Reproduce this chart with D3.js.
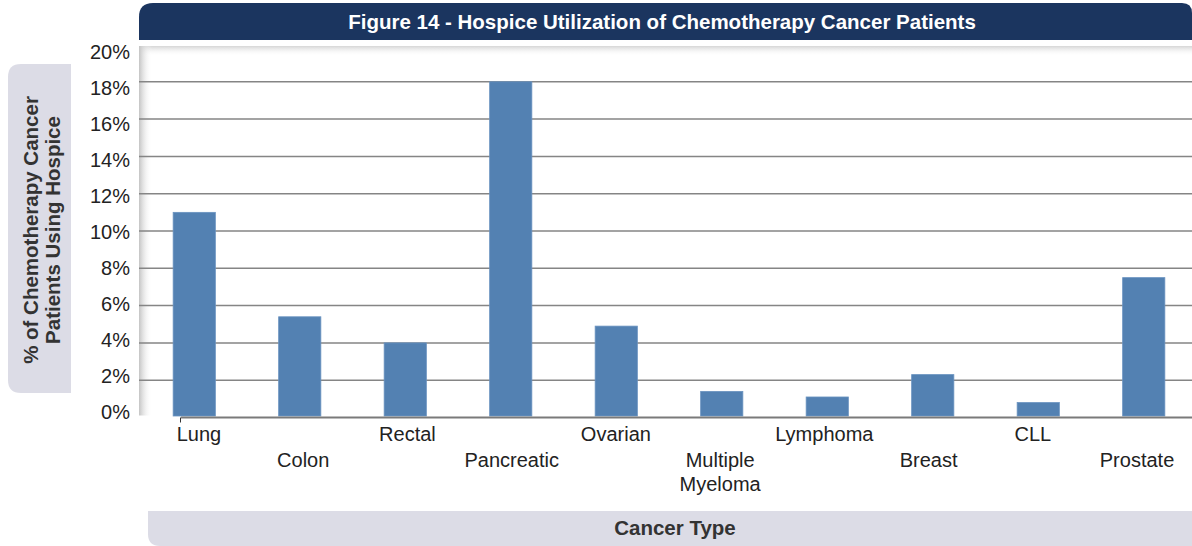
<!DOCTYPE html>
<html>
<head>
<meta charset="utf-8">
<script src="https://cdn.jsdelivr.net/npm/d3@7"></script>
<style>
  body { margin: 0; background: #fff; }
  svg text { font-family: "Liberation Sans", Arial, sans-serif; }
</style>
</head>
<body>
<svg id="chart" width="1192" height="546"></svg>
<script>
var categories = ["Lung", "Colon", "Rectal", "Pancreatic", "Ovarian",
                  "Multiple Myeloma", "Lymphoma", "Breast", "CLL", "Prostate"];
var values = [11.0, 5.4, 4.0, 18.0, 4.9, 1.4, 1.1, 2.3, 0.8, 7.5];
var yTicks = [0, 2, 4, 6, 8, 10, 12, 14, 16, 18, 20];
var titleText = "Figure 14 - Hospice Utilization of Chemotherapy Cancer Patients";
var yTitle = ["% of Chemotherapy Cancer", "Patients Using Hospice"];
var xTitle = "Cancer Type";

var svg = d3.select("#chart");

var plot = { left: 139, right: 1192, top: 46, bottom: 417.5 };

var x = d3.scaleBand()
    .domain(categories)
    .range([141.5, 1196.5])
    .paddingInner(0.6)
    .paddingOuter(0.3);

// category labels run on a slightly tighter step than the bars
var xLab = d3.scalePoint()
    .domain(categories)
    .range([199, 1137]);

var y = d3.scaleLinear()
    .domain([0, 20])
    .range([417.5, 44.5]);

// labels sit on a slightly tighter spacing than the gridlines
var yLab = d3.scaleLinear()
    .domain([0, 20])
    .range([412, 52]);

var defs = svg.append("defs");
var gl = defs.append("linearGradient").attr("id", "shadeL");
gl.append("stop").attr("offset", "0%").attr("stop-color", "#c4c4c4");
gl.append("stop").attr("offset", "100%").attr("stop-color", "#ffffff").attr("stop-opacity", 0);
var gt = defs.append("linearGradient").attr("id", "shadeT")
    .attr("x1", 0).attr("y1", 0).attr("x2", 0).attr("y2", 1);
gt.append("stop").attr("offset", "0%").attr("stop-color", "#d6d6d6");
gt.append("stop").attr("offset", "100%").attr("stop-color", "#ffffff").attr("stop-opacity", 0);

// title bar
svg.append("path")
    .attr("d", "M139,40 L139,17 Q139,3 153,3 L1182,3 Q1192,3 1192,13 L1192,40 Z")
    .attr("fill", "#1b355f");
svg.append("text")
    .attr("x", 662).attr("y", 29)
    .attr("text-anchor", "middle")
    .attr("fill", "#fff")
    .attr("font-size", 20.5).attr("font-weight", "bold")
    .text(titleText);

// plot area shadows
svg.append("rect")
    .attr("x", plot.left).attr("y", plot.top)
    .attr("width", plot.right - plot.left).attr("height", 10)
    .attr("fill", "url(#shadeT)");
svg.append("rect")
    .attr("x", plot.left).attr("y", plot.top)
    .attr("width", 13).attr("height", plot.bottom - plot.top - 2)
    .attr("fill", "url(#shadeL)");

// gridlines
svg.append("g")
    .selectAll("line")
    .data(yTicks.filter(function(d) { return d > 0 && d < 20; }))
    .enter()
    .append("line")
    .attr("x1", plot.left).attr("x2", plot.right)
    .attr("y1", function(d) { return y(d); })
    .attr("y2", function(d) { return y(d); })
    .attr("stroke", "#858585")
    .attr("stroke-width", 1.5);

// y labels
svg.append("g")
    .selectAll("text")
    .data(yTicks)
    .enter()
    .append("text")
    .attr("x", 130)
    .attr("y", function(d) { return yLab(d); })
    .attr("dy", "0.36em")
    .attr("text-anchor", "end")
    .attr("font-size", 20)
    .attr("fill", "#222")
    .text(function(d) { return d + "%"; });

// bars
svg.append("g")
    .selectAll("rect")
    .data(values)
    .enter()
    .append("rect")
    .attr("x", function(d, i) { return x(categories[i]); })
    .attr("y", function(d) { return y(d); })
    .attr("width", x.bandwidth())
    .attr("height", function(d) { return y(0) - 1.5 - y(d); })
    .attr("fill", "#5381b2")
    .attr("stroke", "#6a93c0")
    .attr("stroke-width", 0.8);

// x axis line
svg.append("line")
    .attr("x1", 181).attr("x2", plot.right)
    .attr("y1", y(0)).attr("y2", y(0))
    .attr("stroke", "#7a7a7a").attr("stroke-width", 2);
svg.append("line")
    .attr("x1", 180.5).attr("x2", 180.5)
    .attr("y1", y(0)).attr("y2", y(0) + 5)
    .attr("stroke", "#333").attr("stroke-width", 1);

// x labels, alternating rows
var xl = svg.append("g")
    .selectAll("text")
    .data(categories)
    .enter()
    .append("text")
    .attr("text-anchor", "middle")
    .attr("font-size", 20)
    .attr("fill", "#222")
    .attr("transform", function(d, i) {
        var cy = i % 2 === 0 ? 441 : 467;
        return "translate(" + xLab(d) + "," + cy + ")";
    });
xl.each(function(d) {
    var words = d === "Multiple Myeloma" ? ["Multiple", "Myeloma"] : [d];
    d3.select(this).selectAll("tspan")
        .data(words)
        .enter()
        .append("tspan")
        .attr("x", 0)
        .attr("dy", function(w, j) { return j === 0 ? 0 : 24; })
        .text(function(w) { return w; });
});

// y title box
svg.append("path")
    .attr("d", "M71,64 L71,393 L21,393 Q8,393 8,380 L8,77 Q8,64 21,64 Z")
    .attr("fill", "#dcdce6");
svg.append("g")
    .attr("transform", "translate(40,230) rotate(-90)")
    .selectAll("text")
    .data(yTitle)
    .enter()
    .append("text")
    .attr("x", 0)
    .attr("y", function(d, i) { return i * 22 - 2; })
    .attr("text-anchor", "middle")
    .attr("font-size", 20.5).attr("font-weight", "bold")
    .attr("fill", "#333")
    .text(function(d) { return d; });

// x title box
svg.append("path")
    .attr("d", "M148,511 L1192,511 L1192,546 L160,546 Q148,546 148,534 Z")
    .attr("fill", "#dcdce6");
svg.append("text")
    .attr("x", 675).attr("y", 535)
    .attr("text-anchor", "middle")
    .attr("font-size", 20.5).attr("font-weight", "bold")
    .attr("fill", "#333")
    .text(xTitle);
</script>
</body>
</html>
